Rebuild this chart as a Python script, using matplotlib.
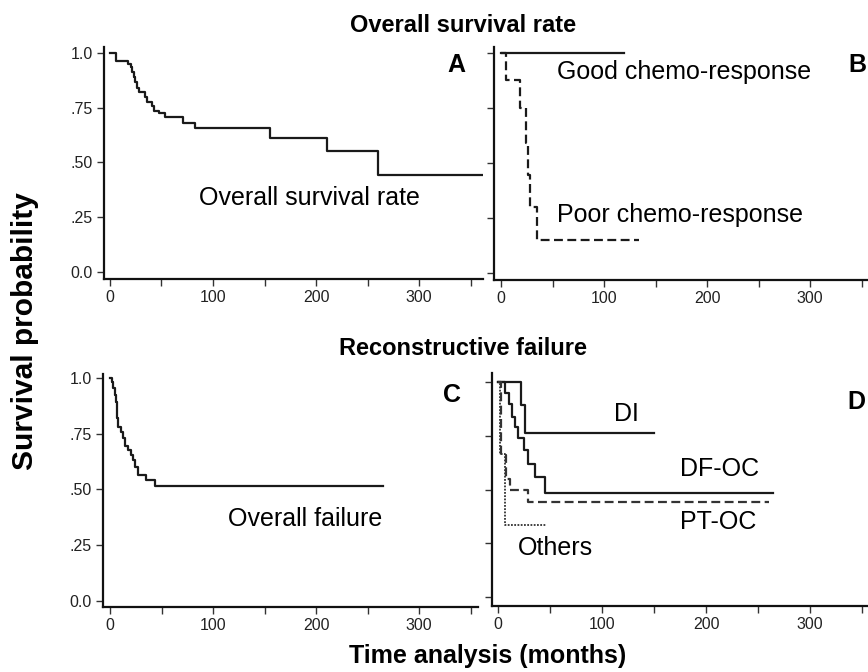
import matplotlib
matplotlib.use("Agg")
import matplotlib.pyplot as plt
from matplotlib.ticker import FixedLocator

plt.rcParams['font.family'] = ['Liberation Sans', 'DejaVu Sans']

# --- data (months, survival probability) ---
# A: overall survival
a_t = [0, 5.8, 17.8, 20, 21.7, 23.3, 24.6, 25.9, 27.8, 34, 35.6, 40.5, 43, 47.9, 53.4, 70.5, 82.5, 155, 211, 260, 362]
a_s = [1.0, 0.965, 0.95, 0.935, 0.915, 0.892, 0.869, 0.842, 0.82, 0.80, 0.778, 0.758, 0.737, 0.725, 0.706, 0.682, 0.655, 0.613, 0.553, 0.445, 0.445]

# B: by chemo-response
good_t = [0, 119]
good_s = [1.0, 1.0]
poor_t = [0, 5.2, 18.1, 24.6, 26.2, 27.8, 35, 134]
poor_s = [1.0, 0.877, 0.748, 0.589, 0.445, 0.30, 0.15, 0.15]

# C: overall reconstructive failure
c_t = [0, 1.6, 3.2, 4.5, 5.8, 6.5, 8.1, 10.4, 12.3, 14.6, 17.8, 20, 22.7, 24.6, 27.5, 34.6, 43.7, 264.5]
c_s = [1.0, 0.984, 0.954, 0.924, 0.894, 0.82, 0.78, 0.76, 0.73, 0.695, 0.677, 0.654, 0.632, 0.602, 0.564, 0.542, 0.515, 0.515]

# D: by reconstruction type
di_t = [0, 21.8, 25.6, 150]
di_s = [1.0, 0.893, 0.761, 0.761]
dfoc_t = [0, 6.4, 10.9, 13.5, 16, 19.2, 25, 28.8, 35.9, 44.9, 264.5]
dfoc_s = [1.0, 0.95, 0.896, 0.838, 0.789, 0.738, 0.683, 0.617, 0.556, 0.484, 0.484]
ptoc_t = [0, 3.2, 8, 11.2, 28.8, 261]
ptoc_s = [1.0, 0.66, 0.55, 0.497, 0.443, 0.443]
oth_t = [0, 2, 6.4, 46.5]
oth_s = [1.0, 0.665, 0.334, 0.334]

yticks = [0, 0.25, 0.5, 0.75, 1.0]
ylabels = ['0.0', '.25', '.50', '.75', '1.0']
xmajor = [0, 100, 200, 300]
xminor = [50, 150, 250, 350]

W, H = 868, 672
fig = plt.figure(figsize=(W / 100, H / 100), dpi=100)


def make_ax(left, right, top, bottom, xlim, ylim, show_ylabels):
    ax = fig.add_axes([left / W, 1 - bottom / H, (right - left) / W, (bottom - top) / H])
    ax.set_xlim(*xlim)
    ax.set_ylim(*ylim)
    for s in ['top', 'right']:
        ax.spines[s].set_visible(False)
    for s in ['left', 'bottom']:
        ax.spines[s].set_linewidth(1.6)
        ax.spines[s].set_color('#111111')
    ax.set_xticks(xmajor)
    ax.set_xticklabels([str(v) for v in xmajor])
    ax.xaxis.set_minor_locator(FixedLocator(xminor))
    ax.set_yticks(yticks)
    if show_ylabels:
        ax.set_yticklabels(ylabels)
    else:
        ax.set_yticklabels([])
    ax.tick_params(which='both', direction='out', length=5, width=1.0, color='#333333',
                   labelsize=11.5, pad=3, labelcolor='#222222')
    return ax


lw = 1.6
col = '#1a1a1a'
fs_note = 18
fs_letter = 18

# A
axA = make_ax(104, 483, 47, 279, (-5.8, 362), (-0.032, 1.027), True)
axA.step(a_t, a_s, where='post', color=col, lw=lw)
axA.text(86.4, 0.338, 'Overall survival rate', fontsize=fs_note, va='center', ha='left')
axA.text(327, 0.945, 'A', fontsize=fs_letter, fontweight='bold', va='center', ha='left')

# B
axB = make_ax(494, 874, 47, 280, (-6.8, 362), (-0.032, 1.027), False)
axB.step(good_t, good_s, where='post', color=col, lw=lw)
axB.step(poor_t, poor_s, where='post', color=col, lw=lw, dashes=(4, 2))
axB.text(54.4, 0.914, 'Good chemo-response', fontsize=fs_note, va='center', ha='left')
axB.text(54.4, 0.264, 'Poor chemo-response', fontsize=fs_note, va='center', ha='left')
axB.text(337, 0.945, 'B', fontsize=fs_letter, fontweight='bold', va='center', ha='left')

# C
axC = make_ax(103, 478, 374, 607, (-6.8, 357), (-0.027, 1.018), True)
axC.step(c_t, c_s, where='post', color=col, lw=lw)
axC.text(114.6, 0.368, 'Overall failure', fontsize=fs_note, va='center', ha='left')
axC.text(323, 0.924, 'C', fontsize=fs_letter, fontweight='bold', va='center', ha='left')

# D
axD = make_ax(492, 874, 373, 606, (-5.8, 361.5), (-0.042, 1.042), False)
axD.step(di_t, di_s, where='post', color=col, lw=lw)
axD.step(dfoc_t, dfoc_s, where='post', color=col, lw=lw)
axD.step(ptoc_t, ptoc_s, where='post', color='#333333', lw=lw, dashes=(4, 2))
axD.step(oth_t, oth_s, where='post', color='#333333', lw=1.3, dashes=(1, 0.8))
axD.text(111.5, 0.851, 'DI', fontsize=fs_note, va='center', ha='left')
axD.text(175, 0.595, 'DF-OC', fontsize=fs_note, va='center', ha='left')
axD.text(175, 0.349, 'PT-OC', fontsize=fs_note, va='center', ha='left')
axD.text(19.2, 0.228, 'Others', fontsize=fs_note, va='center', ha='left')
axD.text(335.6, 0.907, 'D', fontsize=fs_letter, fontweight='bold', va='center', ha='left')

# shared titles and axis labels
fig.text(463 / W, 1 - 26 / H, 'Overall survival rate', fontsize=17, fontweight='bold', ha='center', va='center')
fig.text(463 / W, 1 - 348 / H, 'Reconstructive failure', fontsize=17, fontweight='bold', ha='center', va='center')
fig.text(25 / W, 1 - 331 / H, 'Survival probability', fontsize=21.5, fontweight='bold', rotation=90,
         ha='center', va='center')
fig.text(488 / W, 1 - 656 / H, 'Time analysis (months)', fontsize=18, fontweight='bold', ha='center', va='center')

fig.savefig('out.png', dpi=100)
